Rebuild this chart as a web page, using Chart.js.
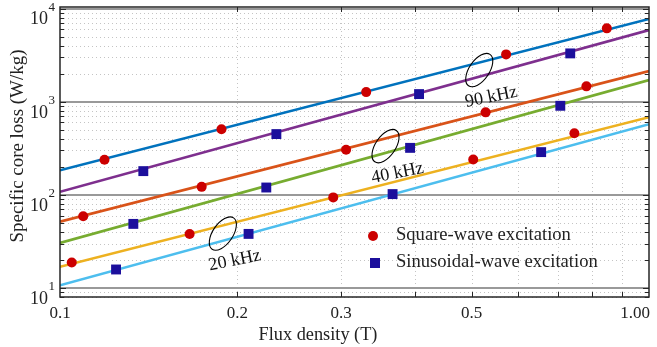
<!DOCTYPE html>
<html>
<head>
<meta charset="utf-8">
<script src="https://cdn.jsdelivr.net/npm/chart.js@4.4.1/dist/chart.umd.min.js"></script>
<style>
  html, body { margin: 0; padding: 0; background: #fff; }
  #wrap { width: 657px; height: 347px; position: relative; }
</style>
</head>
<body>
<div id="wrap"><canvas id="chart"></canvas></div>
<script>
// ---- measured points ----
var fluxSquare = [0.1047, 0.1095, 0.119, 0.166, 0.174, 0.188, 0.291, 0.306, 0.331, 0.503, 0.528, 0.572, 0.747, 0.783, 0.848];
var lossSquare = [18.8, 59, 238, 38, 122, 508, 94, 305, 1271, 240, 770, 3230, 460, 1465, 6150];
var fluxSine = [0.1245, 0.1332, 0.1385, 0.209, 0.224, 0.233, 0.367, 0.393, 0.407, 0.656, 0.707, 0.735];
var lossSine = [15.8, 48.8, 180, 38.1, 120, 450, 102, 320, 1210, 288, 906, 3310];

// ---- fitted lines (value at B = 0.1 T and B = 1 T) ----
var fitNames = ['90 kHz square', '90 kHz sine', '40 kHz square', '40 kHz sine', '20 kHz square', '20 kHz sine'];
var fitColors = ['#0072BD', '#7E2F8E', '#D95319', '#77AC30', '#EDB120', '#4DBEEE'];
var fitFlux = [0.1, 1.0];
var fitLossLow = [184, 108, 51.6, 30.5, 16.9, 10.7];
var fitLossHigh = [7750, 5900, 2140, 1710, 684, 575];

// ---- axes ----
var xTicks = [0.1, 0.2, 0.3, 0.5, 1.0];
var xTickLabels = ['0.1', '0.2', '0.3', '0.5', '1.00'];
var yTicks = [10, 100, 1000, 10000];
var yTickExp = ['1', '2', '3', '4'];

// ---- frequency annotations ----
var freqLabels = ['90 kHz', '40 kHz', '20 kHz'];
var freqFlux = [0.515, 0.357, 0.189];
var freqLoss = [2190, 334, 38.4];

var legendLabels = ['Square-wave excitation', 'Sinusoidal-wave excitation'];

var SERIF = '"Liberation Serif", "DejaVu Serif", serif';
var RED = '#cc0000';
var NAVY = '#1c0f9c';

function toPoints(xs, ys) {
    return xs.map((x, i) => ({ x: x, y: ys[i] }));
}

var datasets = [
    { type: 'scatter', label: legendLabels[0], data: toPoints(fluxSquare, lossSquare),
      pointStyle: 'circle', pointRadius: 5, backgroundColor: RED, borderWidth: 0, order: 0 },
    { type: 'scatter', label: legendLabels[1], data: toPoints(fluxSine, lossSine),
      pointStyle: 'rect', pointRadius: 7, backgroundColor: NAVY, borderWidth: 0, order: 0 }
];
fitNames.forEach((n, i) => {
    datasets.push({
        type: 'line', label: n,
        data: toPoints(fitFlux, [fitLossLow[i], fitLossHigh[i]]),
        borderColor: fitColors[i], borderWidth: 2.6, pointRadius: 0, fill: false, order: 1
    });
});

function seg(ctx, x1, y1, x2, y2) {
    ctx.beginPath(); ctx.moveTo(x1, y1); ctx.lineTo(x2, y2); ctx.stroke();
}

// pick a font size so the text spans roughly the width seen in the figure
function fitFont(ctx, text, width) {
    ctx.font = '20px ' + SERIF;
    var s = 20 * width / ctx.measureText(text).width;
    ctx.font = s.toFixed(2) + 'px ' + SERIF;
}

var decor = {
    id: 'decor',
    beforeDatasetsDraw(chart) {
        var ctx = chart.ctx, a = chart.chartArea, xs = chart.scales.x, ys = chart.scales.y;
        ctx.save();
        ctx.lineWidth = 1;
        ctx.strokeStyle = '#c4c4c4';
        ctx.setLineDash([1, 3]);
        for (var i = 2; i <= 9; i++) {
            var px = Math.round(xs.getPixelForValue(i / 10)) + 0.5;
            seg(ctx, px, a.top, px, a.bottom);
        }
        for (var d = 1; d <= 10000; d *= 10) {
            for (var m = 2; m <= 9; m++) {
                var v = d * m;
                if (v < ys.min || v > ys.max) continue;
                var py = Math.round(ys.getPixelForValue(v)) + 0.5;
                seg(ctx, a.left, py, a.right, py);
            }
        }
        ctx.setLineDash([]);
        ctx.strokeStyle = '#999999';
        ctx.lineWidth = 2;
        yTicks.forEach(v => {
            var py = Math.round(ys.getPixelForValue(v));
            seg(ctx, a.left, py, a.right, py);
        });
        ctx.restore();
    },
    afterDraw(chart) {
        var ctx = chart.ctx, a = chart.chartArea, xs = chart.scales.x, ys = chart.scales.y;
        ctx.save();

        // ellipses + frequency labels
        ctx.strokeStyle = '#000';
        ctx.lineWidth = 1.1;
        ctx.fillStyle = '#111';
        ctx.textAlign = 'center';
        ctx.textBaseline = 'middle';
        freqLabels.forEach((t, i) => {
            var cx = xs.getPixelForValue(freqFlux[i]), cy = ys.getPixelForValue(freqLoss[i]);
            ctx.beginPath();
            ctx.ellipse(cx, cy, 10, 19, 0.6, 0, Math.PI * 2);
            ctx.stroke();
            ctx.save();
            ctx.translate(cx + 12, cy + 27);
            ctx.rotate(-0.2);
            fitFont(ctx, t, 53);
            ctx.fillText(t, 0, 0);
            ctx.restore();
        });

        // frame
        ctx.strokeStyle = '#262626';
        ctx.lineWidth = 1.5;
        ctx.strokeRect(a.left, a.top, a.right - a.left, a.bottom - a.top);

        // inward ticks
        ctx.lineWidth = 1;
        for (var i = 2; i <= 9; i++) {
            var px = Math.round(xs.getPixelForValue(i / 10)) + 0.5;
            seg(ctx, px, a.bottom, px, a.bottom - 5);
            seg(ctx, px, a.top, px, a.top + 5);
        }
        for (var d = 1; d <= 10000; d *= 10) {
            for (var m = 1; m <= 9; m++) {
                var v = d * m;
                if (v < ys.min || v > ys.max) continue;
                var py = Math.round(ys.getPixelForValue(v)) + 0.5;
                var len = m === 1 ? 6 : 4;
                seg(ctx, a.left, py, a.left + len, py);
                seg(ctx, a.right, py, a.right - len, py);
            }
        }

        // x tick labels
        ctx.fillStyle = '#222';
        ctx.font = '17px ' + SERIF;
        ctx.textBaseline = 'middle';
        xTicks.forEach((v, i) => {
            var px = xs.getPixelForValue(v);
            if (i === xTicks.length - 1) {
                ctx.textAlign = 'right';
                px = a.right + 1;
            } else {
                ctx.textAlign = 'center';
            }
            ctx.fillText(xTickLabels[i], px, 314);
        });

        // y tick labels with superscript
        yTicks.forEach((v, i) => {
            var py = ys.getPixelForValue(v);
            ctx.font = '18px ' + SERIF;
            ctx.textAlign = 'right';
            ctx.fillText('10', 48, py + 11);
            ctx.font = '13px ' + SERIF;
            ctx.textAlign = 'left';
            ctx.fillText(yTickExp[i], 48.5, py - 1);
        });

        // axis titles
        ctx.textAlign = 'center';
        fitFont(ctx, 'Flux density (T)', 119);
        ctx.fillText('Flux density (T)', 318, 335);
        ctx.save();
        ctx.translate(18, 146);
        ctx.rotate(-Math.PI / 2);
        fitFont(ctx, 'Specific core loss (W/kg)', 193);
        ctx.fillText('Specific core loss (W/kg)', 0, 0);
        ctx.restore();

        // legend
        ctx.fillStyle = RED;
        ctx.beginPath();
        ctx.arc(373, 236, 5, 0, Math.PI * 2);
        ctx.fill();
        ctx.fillStyle = NAVY;
        ctx.fillRect(370, 258, 10, 10);
        ctx.fillStyle = '#222';
        ctx.textAlign = 'left';
        fitFont(ctx, legendLabels[0], 175);
        ctx.fillText(legendLabels[0], 396, 235);
        ctx.fillText(legendLabels[1], 396, 262);

        ctx.restore();
    }
};

new Chart(document.getElementById('chart'), {
    data: { datasets: datasets },
    options: {
        responsive: true,
        maintainAspectRatio: false,
        animation: false,
        layout: { padding: { top: 7, right: 8, left: 0, bottom: 0 } },
        plugins: { legend: { display: false }, tooltip: { enabled: false } },
        scales: {
            x: {
                type: 'logarithmic', min: 0.1, max: 1.0,
                grid: { display: false }, border: { display: false },
                ticks: { display: false },
                afterFit: s => { s.height = 50; }
            },
            y: {
                type: 'logarithmic', min: 8, max: 10430,
                grid: { display: false }, border: { display: false },
                ticks: { display: false },
                afterFit: s => { s.width = 60; }
            }
        }
    },
    plugins: [decor]
});
</script>
</body>
</html>
